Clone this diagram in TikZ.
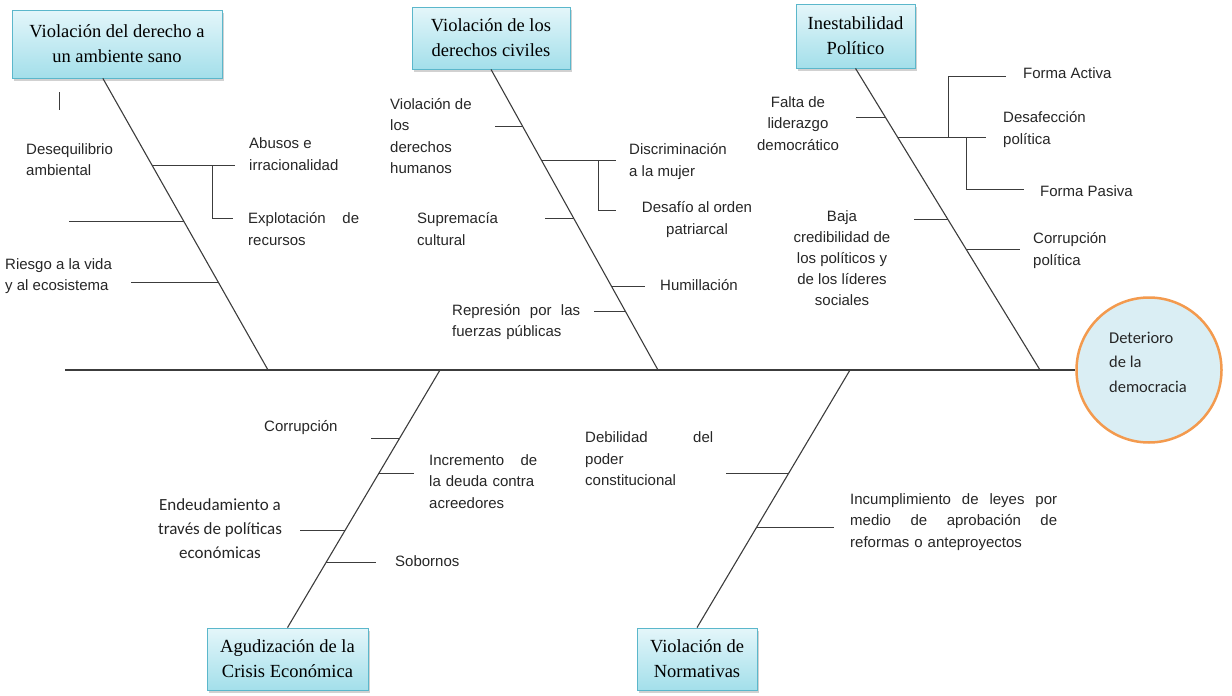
\documentclass[tikz,border=0pt]{standalone}
\usepackage{fontspec}
\setmainfont{Liberation Serif}
\newfontfamily\lblfam{Liberation Sans}
\newfontfamily\calfam{Carlito}
\usetikzlibrary{calc,shadows}
\definecolor{boxtop}{RGB}{228,246,250}
\definecolor{boxbot}{RGB}{163,223,234}
\definecolor{boxedge}{RGB}{91,183,203}
\definecolor{headfill}{RGB}{218,238,244}
\definecolor{headedge}{RGB}{243,154,78}
\definecolor{inkgray}{RGB}{60,60,60}

\tikzset{
  cause/.style={draw=boxedge, line width=0.8pt, top color=boxtop, bottom color=boxbot,
    minimum height=62pt, align=center, inner sep=2pt,
    font=\fontsize{18.5}{25}\selectfont,
    drop shadow={shadow xshift=2pt, shadow yshift=-2.5pt, opacity=0.3, fill=black!60}},
  lbl/.style={font=\lblfam\fontsize{15}{21.5}\selectfont, align=left, inner sep=0pt, text=black!85},
  headtxt/.style={font=\calfam\fontsize{16.5}{24.5}\selectfont, align=left, inner sep=0pt, text=black!85},
  spine/.style={draw=inkgray, line width=1.8pt},
  bone/.style={draw=inkgray, line width=1.1pt},
  twig/.style={draw=inkgray, line width=1pt}
}

\begin{document}
\begin{tikzpicture}[x=1pt,y=-1pt]
\useasboundingbox (0,0) rectangle (1232,696);

% cause boxes and head
\node[cause, minimum width=210pt, minimum height=68pt] (box1) at (117,44) {Violación del derecho a\\un ambiente sano};
\node[cause, minimum width=158pt] (box2) at (491,38) {Violación de los\\derechos civiles};
\node[cause, minimum width=119pt, minimum height=64pt] (box3) at (855.5,36) {Inestabilidad\\Político};
\node[cause, minimum width=161pt] (box4) at (287.5,659) {Agudización de la\\Crisis Económica};
\node[cause, minimum width=120pt] (box5) at (697,659) {Violación de\\Normativas};
\node[draw=headedge, line width=2.5pt, fill=headfill, circle, minimum size=145pt] (head) at (1149,370) {};
\node[headtxt] (headlbl) at (1148,362) {Deterioro\\de la\\democracia};

% spine and bones
\coordinate (tail) at (65,370);
\coordinate (s1) at (268,370);
\coordinate (s2) at (658,370);
\coordinate (s3) at (1040,370);
\coordinate (s4) at (440,370);
\coordinate (s5) at (850,370);
\coordinate (t1) at ($(box1.south west)!0.433!(box1.south east)$);
\coordinate (t2) at (box2.south);
\coordinate (t3) at (box3.south);
\coordinate (t4) at (box4.north);
\coordinate (t5) at (box5.north);
\draw[spine] (tail) -- (head.west);
\foreach \i in {1,...,5}
  \draw[bone] (t\i) -- (s\i);

\path (t1) -- (s1) coordinate[pos=0.298] (b1a) coordinate[pos=0.490] (b1b) coordinate[pos=0.699] (b1c);
\path (t2) -- (s2) coordinate[pos=0.189] (b2a) coordinate[pos=0.302] (b2b) coordinate[pos=0.495] (b2c)
  coordinate[pos=0.721] (b2d) coordinate[pos=0.804] (b2e);
\path (t3) -- (s3) coordinate[pos=0.163] (b3a) coordinate[pos=0.229] (b3b) coordinate[pos=0.502] (b3c)
  coordinate[pos=0.601] (b3d);
\path (s4) -- (t4) coordinate[pos=0.264] (b4a) coordinate[pos=0.403] (b4b) coordinate[pos=0.624] (b4c)
  coordinate[pos=0.748] (b4d);
\path (s5) -- (t5) coordinate[pos=0.403] (b5a) coordinate[pos=0.612] (b5b);

% branches
\draw[twig] (59,92) -- (59,110);
\draw[twig] (b1a) -- ++(83,0);
\draw[twig] ($(b1a)+(60,0)$) |- ++(21,53);
\draw[twig] (b1b) -- ++(-115,0);
\draw[twig] (b1c) -- ++(-87,0);

\draw[twig] (b2a) -- ++(-28,0);
\draw[twig] (b2b) -- ++(75,0);
\draw[twig] ($(b2b)+(57,0)$) |- ++(18,50);
\draw[twig] (b2c) -- ++(-29,0);
\draw[twig] (b2d) -- ++(34,0);
\draw[twig] (b2e) -- ++(-31,0);

\draw[twig] (b3a) -- ++(-30,0);
\draw[twig] (b3b) -- ++(88,0);
\draw[twig] ($(b3b)+(51,0)$) |- ++(57,-61);
\draw[twig] ($(b3b)+(69,0)$) |- ++(57,52);
\draw[twig] (b3c) -- ++(-34,0);
\draw[twig] (b3d) -- ++(54,0);

\draw[twig] (b4a) -- ++(-29,0);
\draw[twig] (b4b) -- ++(35,0);
\draw[twig] (b4c) -- ++(-45,0);
\draw[twig] (b4d) -- ++(50,0);

\draw[twig] (b5a) -- ++(-62,0);
\draw[twig] (b5b) -- ++(78,0);

% labels
\node[lbl, anchor=west] (desq) at (26,159.5) {Desequilibrio\\ambiental};
\node[lbl, anchor=west] (abus) at (249,154) {Abusos e\\irracionalidad};
\node[lbl, anchor=west, text width=111pt] (expl) at (248,229) {Explotación\hfill de\\recursos};
\node[lbl, anchor=west] (ries) at (5,276) {Riesgo a la vida\\y al ecosistema};
\node[lbl, anchor=west] (vddhh) at (390,136) {Violación de\\los\\derechos\\humanos};
\node[lbl, anchor=west] (discr) at (629,161.5) {Discriminación\\a la mujer};
\node[lbl, align=center] (desaf) at (697,219.5) {Desafío al orden\\patriarcal};
\node[lbl, anchor=west] (supr) at (417,229) {Supremacía\\cultural};
\node[lbl, anchor=west] (humi) at (660,285) {Humillación};
\node[lbl, anchor=west, text width=128pt] (repr) at (452,322) {Represión\hfill por\hfill las\\fuerzas públicas};
\node[lbl, align=center] (falta) at (798,123.5) {Falta de\\liderazgo\\democrático};
\node[lbl, anchor=west] (activa) at (1023,73) {Forma Activa};
\node[lbl, anchor=west] (desafec) at (1003,129.5) {Desafección\\política};
\node[lbl, anchor=west] (pasiva) at (1040,191) {Forma Pasiva};
\node[lbl, align=center, font=\lblfam\fontsize{15}{21}\selectfont] (baja) at (842,258) {Baja\\credibilidad de\\los políticos y\\de los líderes\\sociales};
\node[lbl, anchor=west] (corrpol) at (1033,250.5) {Corrupción\\política};
\node[lbl, anchor=west] (corr) at (264,428) {Corrupción};
\node[lbl, anchor=west, text width=108pt] (incr) at (429,481.5) {Incremento\hfill de\\la deuda contra\\acreedores};
\node[lbl, align=center, font=\calfam\fontsize{17}{24}\selectfont] (endeu) at (220,529) {Endeudamiento a\\través de políticas\\económicas};
\node[lbl, anchor=west] (sobo) at (395,561) {Sobornos};
\node[lbl, anchor=west, text width=128pt] (debil) at (585,459) {Debilidad\hfill del\\poder\\constitucional};
\node[lbl, anchor=west, text width=207pt] (incum) at (850,522) {Incumplimiento\hfill de\hfill leyes\hfill por\\medio\hfill de\hfill aprobación\hfill de\\reformas o anteproyectos};
\end{tikzpicture}
\end{document}
